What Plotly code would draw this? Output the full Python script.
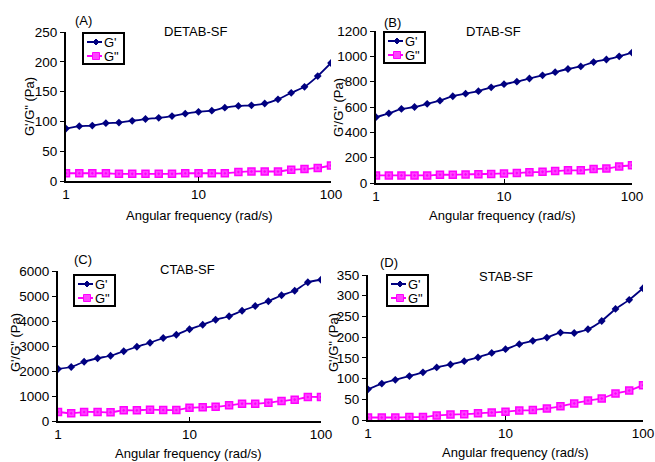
import plotly.graph_objects as go

freq = [1, 1.26, 1.58, 2, 2.51, 3.16, 3.98, 5.01, 6.31, 7.94, 10,
        12.6, 15.8, 20, 25.1, 31.6, 39.8, 50.1, 63.1, 79.4, 100]

a_gp = [88, 92, 93, 97, 98, 101, 104, 106, 109, 113, 116, 118, 123, 126, 127, 130, 137, 148, 158, 176, 198]
a_gpp = [13, 13, 13, 13, 12, 12, 12, 12, 12, 13, 13, 13, 13, 15, 16, 16, 16, 19, 20, 22, 26]

b_gp = [520, 550, 585, 600, 625, 650, 685, 705, 725, 755, 780, 800, 825, 850, 875, 900, 920, 955, 975, 1000, 1030]
b_gpp = [60, 60, 60, 60, 60, 65, 65, 68, 70, 72, 75, 78, 85, 88, 95, 100, 100, 110, 115, 130, 140]

c_gp = [2080, 2160, 2370, 2510, 2610, 2790, 2970, 3130, 3320, 3450, 3670, 3850, 4050, 4190, 4410, 4600, 4790, 5030, 5210, 5550, 5650]
c_gpp = [360, 307, 360, 360, 350, 427, 427, 453, 440, 440, 533, 550, 573, 627, 693, 693, 733, 800, 853, 960, 960]

d_gp = [74, 88, 97, 106, 115, 127, 134, 142, 151, 162, 171, 183, 191, 199, 211, 210, 219, 239, 268, 290, 318]
d_gpp = [6, 6, 6, 7, 7, 11, 13, 14, 16, 18, 20, 23, 24, 28, 33, 40, 47, 52, 64, 71, 84]

series_names = ["G'", 'G"']
panels = ["(A)", "(B)", "(C)", "(D)"]
titles = ["DETAB-SF", "DTAB-SF", "CTAB-SF", "STAB-SF"]
y_max = [250, 1200, 6000, 350]
y_step = [50, 200, 1000, 50]
x_ticks = [1, 10, 100]
series = [(a_gp, a_gpp), (b_gp, b_gpp), (c_gp, c_gpp), (d_gp, d_gpp)]

NAVY = "#000080"
MAG = "#FF00FF"
W, H = 655, 462
# plot boxes in pixels: x0, x1, ytop, ybottom
boxes = [(66, 331, 32, 181), (376, 632, 31, 183), (58, 321, 271, 421), (368, 643, 275, 420)]
leg_pos = [(83, 33), (384, 32), (74, 275), (387, 275)]
lab_pos = [(83, 21), (392, 22), (83, 259), (389, 262)]
tit_pos = [(195, 32), (493, 31), (187, 269), (506, 276)]
xt_pos = [(199, 215), (502, 215), (188, 453), (515, 452)]
yt_pos = [(29, 107), (338, 107), (15, 343), (333, 343)]

FONT = "Liberation Sans, Arial, sans-serif"
fig = go.Figure()
layout = dict(width=W, height=H, margin=dict(l=0, r=0, t=0, b=0),
              paper_bgcolor="white", plot_bgcolor="white", showlegend=False,
              font=dict(family=FONT, size=13, color="black"))
annotations = []
shapes = []


def px(x):
    return x / W


def py(y):
    return 1 - y / H


def note(x, y, text, xanchor="center", angle=0, size=13):
    annotations.append(dict(x=px(x), y=py(y), xref="paper", yref="paper",
                            xanchor=xanchor, yanchor="middle", text=text,
                            showarrow=False, textangle=angle,
                            font=dict(size=size, family=FONT, color="black")))


for i in range(4):
    n = "" if i == 0 else str(i + 1)
    gp, gpp = series[i]
    fig.add_trace(go.Scatter(x=freq, y=gp, name=series_names[0], mode="lines+markers",
                             xaxis="x" + n, yaxis="y" + n,
                             line=dict(color=NAVY, width=1.8, shape="spline", smoothing=0.5),
                             marker=dict(symbol="diamond", size=6, color=NAVY)))
    fig.add_trace(go.Scatter(x=freq, y=gpp, name=series_names[1], mode="lines+markers",
                             xaxis="x" + n, yaxis="y" + n,
                             line=dict(color=MAG, width=1.8, shape="spline", smoothing=0.5),
                             marker=dict(symbol="square-dot", size=7, color="#FF44FF",
                                         line=dict(color=MAG, width=1.5))))
    x0, x1, yt, yb = boxes[i]
    layout["xaxis" + n] = dict(domain=[px(x0), px(x1)], anchor="y" + n, type="log",
                               range=[0, 2], tickvals=x_ticks, ticktext=[str(v) for v in x_ticks],
                               showline=True, linecolor="black", linewidth=2, ticks="inside",
                               ticklen=4, tickcolor="black", showgrid=False, zeroline=False,
                               automargin=False, tickfont=dict(size=13.5, family=FONT))
    layout["yaxis" + n] = dict(domain=[py(yb), py(yt)], anchor="x" + n,
                               range=[0, y_max[i]], dtick=y_step[i], tick0=0,
                               showline=True, linecolor="black", linewidth=2, ticks="outside",
                               ticklen=4, tickcolor="black", showgrid=False, zeroline=False,
                               automargin=False, tickfont=dict(size=13.5, family=FONT))
    # legend box
    lx, ly = leg_pos[i]
    lw, lh = 41, 31
    shapes.append(dict(type="rect", xref="paper", yref="paper",
                       x0=px(lx), x1=px(lx + lw), y0=py(ly + lh), y1=py(ly),
                       line=dict(color="black", width=2), fillcolor="white"))
    for k, (col, nm) in enumerate([(NAVY, series_names[0]), (MAG, series_names[1])]):
        ey = ly + 9 + k * 14
        shapes.append(dict(type="line", xref="paper", yref="paper",
                           x0=px(lx + 4), x1=px(lx + 19), y0=py(ey), y1=py(ey),
                           line=dict(color=col, width=2)))
        mx = lx + 13
        if k == 0:
            path = "M {},{} L {},{} L {},{} L {},{} Z".format(
                px(mx - 3), py(ey), px(mx), py(ey - 3), px(mx + 3), py(ey), px(mx), py(ey + 3))
            shapes.append(dict(type="path", xref="paper", yref="paper", path=path,
                               fillcolor=col, line=dict(color=col, width=1)))
        else:
            shapes.append(dict(type="rect", xref="paper", yref="paper",
                               x0=px(mx - 3.5), x1=px(mx + 3.5), y0=py(ey + 3.5), y1=py(ey - 3.5),
                               fillcolor="#FF44FF", line=dict(color=col, width=1)))
        note(lx + 19, ey, nm, xanchor="left")
    note(lab_pos[i][0], lab_pos[i][1], panels[i])
    note(tit_pos[i][0], tit_pos[i][1], titles[i])
    note(xt_pos[i][0], xt_pos[i][1], "Angular frequency (rad/s)")
    note(yt_pos[i][0], yt_pos[i][1], 'G\'/G" (Pa)', angle=-90)

layout["annotations"] = annotations
layout["shapes"] = shapes
fig.update_layout(**layout)
fig.write_html("out.html")
